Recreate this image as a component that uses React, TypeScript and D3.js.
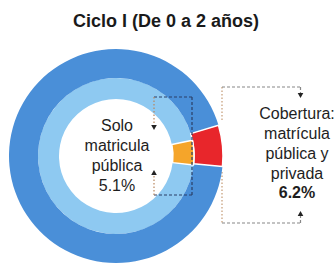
import React from 'react';
import * as d3 from 'd3';

const title = 'Ciclo I (De 0 a 2 años)';
const ringValues = [5.1, 6.2]; // inner: solo matrícula pública, outer: cobertura pública y privada
const ringColors = ['#8ec9f1', '#4a8fd8'];
const highlightColors = ['#f5a52a', '#e8262b'];
const leftLabel = ['Solo', 'matricula', 'pública', '5.1%'];
const rightLabel = ['Cobertura:', 'matrícula', 'pública y', 'privada'];
const rightValueLabel = '6.2%';

const W = 336, H = 265;
const cx = 116, cy = 156;
const radii = [57, 78, 107];
const centerAngles = [(87.5 * Math.PI) / 180, (84.5 * Math.PI) / 180];
const font = '"Liberation Sans", Arial, Helvetica, sans-serif';

function slices(v: number, c: number) {
  const start = c - (v / 100) * Math.PI;
  return d3.pie<number>().sort(null).startAngle(start).endAngle(start + 2 * Math.PI)([v, 100 - v]);
}

function tri(x: number, y: number, dir: 'down' | 'up') {
  const s = dir === 'down' ? -1 : 1;
  return `M${x},${y}L${x - 2.8},${y - s * -5}L${x + 2.8},${y - s * -5}Z`;
}

export default function App() {
  const rings = ringValues.map((v, i) => {
    const arc = d3.arc<d3.PieArcDatum<number>>().innerRadius(radii[i]).outerRadius(radii[i + 1]);
    const p = slices(v, centerAngles[i]);
    return { rest: arc(p[1]) as string, hi: arc(p[0]) as string };
  });
  // left box
  const lbX0 = 154, lbX1 = 192, lbY0 = 97, lbY1 = 195;
  // right box
  const rbX0 = 222, rbX1 = 300.5, rbY0 = 87, rbY1 = 223;
  const gapTop = cy - 36, gapBot = cy + 16;
  const lineY = (i: number) => 131 + i * 20;
  return (
    <svg width={W} height={H} style={{ position: 'absolute', left: 0, top: 0, background: '#fff' }}>
      <text x={166} y={27} textAnchor="middle" fontFamily={font} fontWeight="bold" fontSize={18} fill="#1a1a1a">{title}</text>
      {/* right box left line, behind pie */}
      <g stroke="#c49a74" strokeWidth={1.2} strokeDasharray="1.5 2" fill="none">
        <line x1={rbX0} y1={rbY0} x2={rbX0} y2={gapTop} />
        <line x1={rbX0} y1={gapBot} x2={rbX0} y2={rbY1} />
      </g>
      <g transform={`translate(${cx},${cy})`}>
        {rings.map((r, i) => <path key={'r' + i} d={r.rest} fill={ringColors[i]} />)}
        {rings.slice().reverse().map((r, j) => {
          const i = rings.length - 1 - j;
          return <path key={'h' + i} d={r.hi} fill={highlightColors[i]} stroke="#fff" strokeWidth={1.5} strokeLinejoin="round" />;
        })}
      </g>
      {/* left box */}
      <g stroke="#2a3f66" strokeWidth={1.2} strokeDasharray="3 2" fill="none">
        <line x1={lbX0} y1={lbY0} x2={lbX1} y2={lbY0} />
        <line x1={lbX1} y1={lbY0} x2={lbX1} y2={lbY1} />
        <line x1={lbX0} y1={lbY1} x2={lbX1} y2={lbY1} />
      </g>
      <g stroke="#b8865e" strokeWidth={1.2} strokeDasharray="1.5 2" fill="none">
        <line x1={lbX0} y1={lbY0} x2={lbX0} y2={125} />
        <line x1={lbX0} y1={176} x2={lbX0} y2={lbY1} />
      </g>
      <path d={tri(lbX0, 130, 'down')} fill="#222" />
      <path d={tri(lbX0, 170, 'up')} fill="#222" />
      {/* right box top/bottom */}
      <g stroke="#888" strokeWidth={1.2} strokeDasharray="3 2" fill="none">
        <line x1={rbX0} y1={rbY0} x2={rbX1} y2={rbY0} />
        <line x1={rbX0} y1={rbY1} x2={rbX1} y2={rbY1} />
        <line x1={rbX1} y1={rbY0} x2={rbX1} y2={rbY0 + 6} />
        <line x1={rbX1} y1={rbY1} x2={rbX1} y2={rbY1 - 7} />
      </g>
      <path d={tri(rbX1, 98, 'down')} fill="#222" />
      <path d={tri(rbX1, 211, 'up')} fill="#222" />
      <g fontFamily={font} fontSize={16} fill="#1e1e1e" textAnchor="middle">
        {leftLabel.map((t, i) => <text key={'l' + i} x={117} y={lineY(i)}>{t}</text>)}
        {rightLabel.map((t, i) => <text key={'rl' + i} x={297} y={119 + i * 20}>{t}</text>)}
        <text x={297} y={198} fontWeight="bold">{rightValueLabel}</text>
      </g>
    </svg>
  );
}
